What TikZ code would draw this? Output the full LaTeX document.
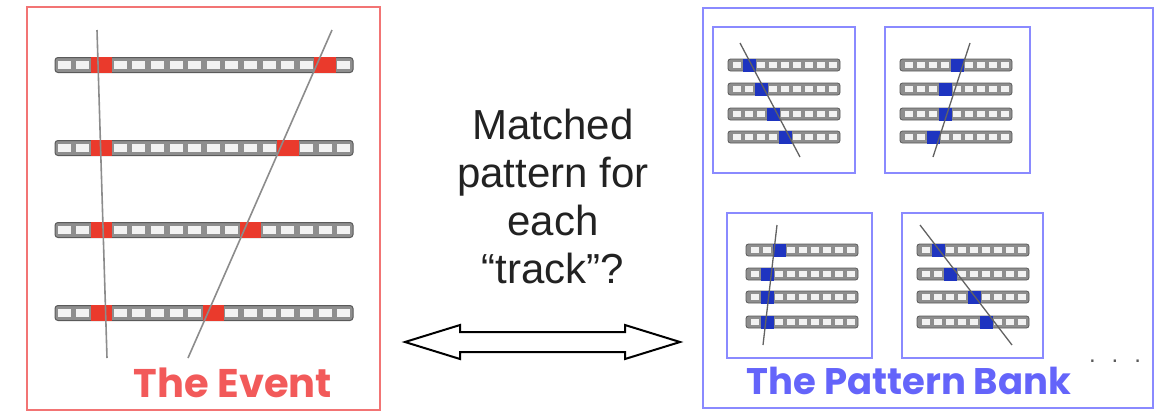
\documentclass[tikz,border=0pt]{standalone}
\usepackage{fontspec}
\usetikzlibrary{calc}
\setmainfont{Liberation Sans}
\newfontfamily\comicfont{Poppins}
\definecolor{evred}{HTML}{F27474}
\definecolor{evtextred}{HTML}{F25A5A}
\definecolor{hitred}{HTML}{EA3A2C}
\definecolor{bankblue}{HTML}{8A8AFF}
\definecolor{textblue}{HTML}{6464FA}
\definecolor{hitblue}{HTML}{1E34C0}
\definecolor{stripgray}{HTML}{8E8E8E}
\definecolor{stripedge}{HTML}{5A5A5A}
\definecolor{trackgray}{HTML}{8C8C8C}
\definecolor{celllight}{HTML}{F2F2F2}
\definecolor{midtext}{HTML}{222222}
\newcommand\bigstrip[3]{%
  \filldraw[fill=stripgray, draw=stripedge, line width=1pt, rounded corners=3pt] (55,#1-7.5) rectangle (353,#1+7.5);
  \foreach \i in {0,...,15}{\fill[celllight] ({55+18.625*\i+2.8},#1-4.2) rectangle ({55+18.625*(\i+1)-2.8},#1+4.2);}
  \foreach \j in {#2,#3}{\fill[hitred] ({55+18.625*\j-1.5},#1-8) rectangle ({55+18.625*(\j+1)+1.5},#1+8);}
}
\newcommand\ministrip[3]{%
  \filldraw[fill=stripgray, draw=stripedge, line width=0.8pt, rounded corners=2.5pt] (#1,#2-6) rectangle ({#1+112},#2+6);
  \foreach \i in {0,...,8}{\fill[celllight] ({#1+3+12*\i+2.2},#2-2.6) rectangle ({#1+3+12*(\i+1)-2.2},#2+2.6);}
  \fill[hitblue] ({#1+3+12*#3-0.5},#2-6.5) rectangle ({#1+3+12*(#3+1)+0.5},#2+6.5);
}
\tikzset{
  eventbox/.style={draw=evred, line width=2.5pt, inner sep=0pt},
  bankbox/.style={draw=bankblue, line width=2.5pt, inner sep=0pt},
  patbox/.style={draw=bankblue, line width=2pt, inner sep=0pt},
  bigtrack/.style={draw=trackgray, line width=1.6pt},
  minitrack/.style={draw=trackgray!70!black, line width=1.3pt},
  evlabel/.style={font=\comicfont\bfseries\fontsize{40}{42}\selectfont, text=evtextred, inner sep=0pt},
  banklabel/.style={font=\comicfont\bfseries\fontsize{37}{40}\selectfont, text=textblue, inner sep=0pt},
  midlabel/.style={font=\fontsize{42}{48}\selectfont, text=midtext, align=center, inner sep=0pt},
  dblarrow/.style={draw=black, fill=white, line width=2pt, line join=miter}
}
\begin{document}
\begin{tikzpicture}[x=1pt,y=-1pt]
\useasboundingbox (0,0) rectangle (1161,413);
% event box
\node[eventbox, minimum width=353pt, minimum height=403pt] (event) at (203.5,208.5) {};
\bigstrip{65}{2}{14}
\bigstrip{148}{2}{12}
\bigstrip{230}{2}{10}
\bigstrip{313}{2}{8}
\coordinate (t1a) at (97,30); \coordinate (t1b) at (107,358);
\coordinate (t2a) at (332,30); \coordinate (t2b) at (188,358);
\draw[bigtrack] (t1a) -- (t1b);
\draw[bigtrack] (t2a) -- (t2b);
\node[evlabel] (evtxt) at (233,383) {The Event};
% middle
\node[midlabel] (question) at (553,196) {Matched\\pattern for\\each\\“track”?};
\coordinate (arL) at (405,342);
\coordinate (arR) at (680,342);
\draw[dblarrow] (arL) -- ++(55,-17) -- ++(0,7) -- ($(arR)+(-55,-10)$) -- ++(0,-7) -- (arR)
  -- ++(-55,17) -- ++(0,-7) -- ($(arL)+(55,10)$) -- ++(0,7) -- cycle;
% pattern bank
\node[bankbox, minimum width=450pt, minimum height=400pt] (bank) at (928,208) {};
\node[patbox, minimum width=142pt, minimum height=146pt] (p1) at (784,100) {};
\node[patbox, minimum width=145pt, minimum height=146pt] (p2) at (957.5,100) {};
\node[patbox, minimum width=145pt, minimum height=145pt] (p3) at (799.5,285.5) {};
\node[patbox, minimum width=141pt, minimum height=145pt] (p4) at (972.5,285.5) {};
% box 1
\ministrip{728}{65}{1}\ministrip{728}{89}{2}\ministrip{728}{114}{3}\ministrip{728}{137}{4}
\coordinate (m1a) at (740,43); \coordinate (m1b) at (800,157);
\draw[minitrack] (m1a) -- (m1b);
% box 2
\ministrip{900}{65}{4}\ministrip{900}{89}{3}\ministrip{900}{114}{3}\ministrip{900}{137}{2}
\coordinate (m2a) at (970,43); \coordinate (m2b) at (933,157);
\draw[minitrack] (m2a) -- (m2b);
% box 3
\ministrip{746}{250}{2}\ministrip{746}{274}{1}\ministrip{746}{297}{1}\ministrip{746}{322}{1}
\coordinate (m3a) at (777,225); \coordinate (m3b) at (763,345);
\draw[minitrack] (m3a) -- (m3b);
% box 4
\ministrip{917}{250}{1}\ministrip{917}{274}{2}\ministrip{917}{297}{4}\ministrip{917}{322}{5}
\coordinate (m4a) at (920,225); \coordinate (m4b) at (1012,345);
\draw[minitrack] (m4a) -- (m4b);
\node[banklabel] (banktxt) at (909,381) {The Pattern Bank};
\node[font=\fontsize{24}{24}\selectfont, text=black!65, inner sep=0pt, anchor=base] (dots) at (1115,362) {.\hspace{16pt}.\hspace{16pt}.};
\end{tikzpicture}
\end{document}
